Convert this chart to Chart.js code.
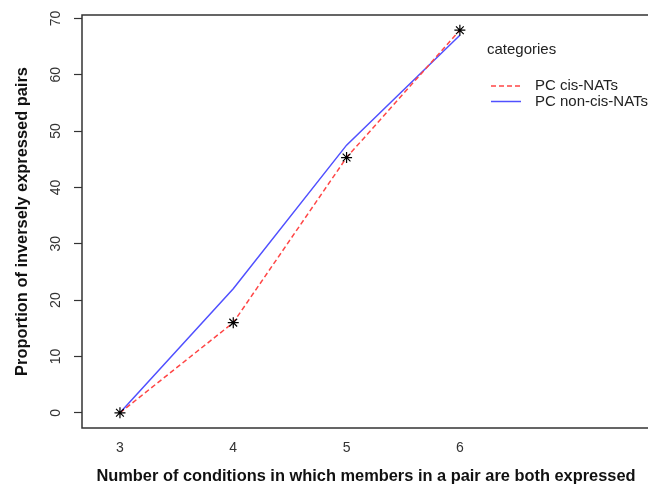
<!DOCTYPE html>
<html>
<head>
<meta charset="utf-8">
<script src="https://cdn.jsdelivr.net/npm/chart.js@4"></script>
<style>
  html, body { margin: 0; padding: 0; background: #fff; overflow: hidden; }
</style>
</head>
<body>
<canvas id="chart" width="650" height="486"></canvas>
<script>
(function () {
  'use strict';

  // conditions (x) and the two series
  var CONDITIONS = [3, 4, 5, 6];
  var CIS_NATS = [0, 16, 45.3, 67.9];
  var NON_CIS_NATS = [0, 22, 47.5, 67];
  var X_TICKS = [3, 4, 5, 6];
  var Y_TICKS = [0, 10, 20, 30, 40, 50, 60, 70];
  var LEGEND_TITLE = 'categories';
  var SERIES_NAMES = ['PC cis-NATs', 'PC non-cis-NATs'];

  var RED = 'rgb(255, 70, 70)';
  var BLUE = 'rgb(80, 80, 255)';
  var AXIS = '#333';
  var FONT = "'Liberation Sans', Arial, sans-serif";

  function points(ys) {
    return CONDITIONS.map(function (x, i) { return { x: x, y: ys[i] }; });
  }

  function noPadding(s) {
    s.paddingLeft = s.paddingRight = s.paddingTop = s.paddingBottom = 0;
  }

  // R-style box round the plot region
  var boxPlugin = {
    id: 'box',
    afterDraw: function (chart) {
      var a = chart.chartArea, ctx = chart.ctx;
      ctx.save();
      ctx.strokeStyle = AXIS;
      ctx.lineWidth = 1.5;
      ctx.strokeRect(a.left, a.top, a.right - a.left, a.bottom - a.top);
      ctx.restore();
    }
  };

  // legend without a frame, as R draws it
  var legendPlugin = {
    id: 'rLegend',
    afterDraw: function (chart) {
      var ctx = chart.ctx;
      ctx.save();
      ctx.font = '15px ' + FONT;
      ctx.fillStyle = '#222';
      ctx.textBaseline = 'middle';
      ctx.fillText(LEGEND_TITLE, 487, 50);
      var colors = [RED, BLUE];
      var dashes = [[5, 3], []];
      SERIES_NAMES.forEach(function (name, i) {
        var y = 86 + i * 15.5;
        ctx.strokeStyle = colors[i];
        ctx.lineWidth = 1.5;
        ctx.setLineDash(dashes[i]);
        ctx.beginPath();
        ctx.moveTo(491, y);
        ctx.lineTo(521, y);
        ctx.stroke();
        ctx.fillText(name, 535, y);
      });
      ctx.restore();
    }
  };

  new Chart(document.getElementById('chart').getContext('2d'), {
    type: 'line',
    data: {
      datasets: [
        {
          label: SERIES_NAMES[0],
          data: points(CIS_NATS),
          borderColor: RED,
          borderWidth: 1.5,
          borderDash: [5, 3],
          pointStyle: 'star',
          pointRadius: 5.5,
          pointBorderColor: '#000',
          pointBorderWidth: 1.2,
          pointBackgroundColor: '#000',
          tension: 0,
          order: 0
        },
        {
          label: SERIES_NAMES[1],
          data: points(NON_CIS_NATS),
          borderColor: BLUE,
          borderWidth: 1.5,
          pointRadius: 0,
          tension: 0,
          order: 1
        }
      ]
    },
    options: {
      responsive: false,
      animation: false,
      layout: { autoPadding: false, padding: { top: 15, left: 0, right: 0, bottom: 0 } },
      plugins: {
        legend: { display: false },
        tooltip: { enabled: false }
      },
      scales: {
        x: {
          type: 'linear',
          min: 2.665,
          max: 7.678,
          afterFit: function (s) { s.height = 58; noPadding(s); },
          afterBuildTicks: function (s) { s.ticks = X_TICKS.map(function (v) { return { value: v }; }); },
          grid: { display: false, drawTicks: false },
          border: { display: false },
          ticks: {
            padding: 12,
            color: AXIS,
            font: { family: FONT, size: 14 }
          },
          title: {
            display: true,
            text: 'Number of conditions in which members in a pair are both expressed',
            color: '#111',
            font: { family: FONT, size: 16.4, weight: 'bold' },
            padding: { top: 0, bottom: 0 }
          }
        },
        y: {
          type: 'linear',
          min: -2.7,
          max: 70.6,
          afterFit: function (s) { s.width = 82; noPadding(s); },
          afterBuildTicks: function (s) { s.ticks = Y_TICKS.map(function (v) { return { value: v }; }); },
          grid: {
            drawOnChartArea: false,
            drawTicks: true,
            tickLength: 8,
            tickWidth: 1.2,
            tickColor: AXIS
          },
          border: { display: false },
          ticks: {
            minRotation: 90,
            maxRotation: 90,
            crossAlign: 'center',
            padding: 10,
            color: AXIS,
            font: { family: FONT, size: 14 }
          },
          title: {
            display: true,
            text: 'Proportion of inversely expressed pairs',
            color: '#111',
            font: { family: FONT, size: 16.4, weight: 'bold' },
            padding: { top: 13, bottom: 0 }
          }
        }
      }
    },
    plugins: [boxPlugin, legendPlugin]
  });
})();
</script>
</body>
</html>
